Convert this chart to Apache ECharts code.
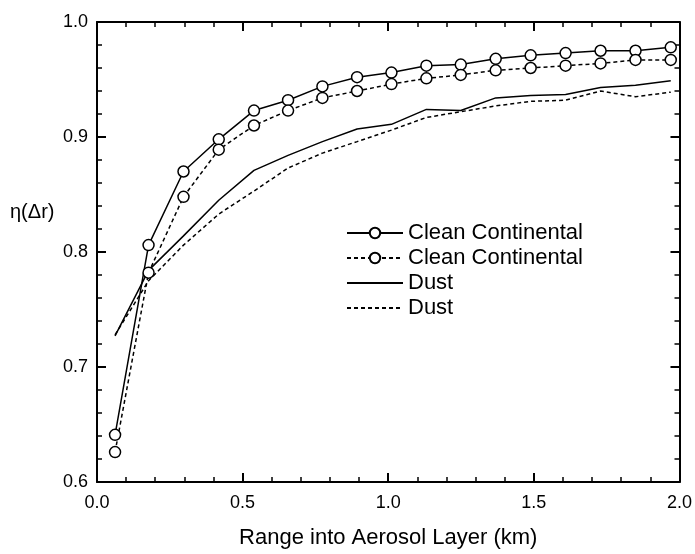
<!DOCTYPE html>
<html>
<head>
<meta charset="utf-8">
<script src="https://cdn.jsdelivr.net/npm/echarts@6/dist/echarts.min.js"></script>
<style>
html,body{margin:0;padding:0;background:#fff;}
#chart{width:695px;height:554px;}
</style>
</head>
<body>
<div id="chart"></div>
<script>
// Range into aerosol layer (km)
const rangeKm = [0.062,0.177,0.297,0.418,0.539,0.656,0.774,0.893,1.011,1.131,1.249,1.369,1.489,1.609,1.729,1.849,1.970];
// eta(Δr) values
const cleanContSolid = [0.641,0.806,0.870,0.898,0.923,0.932,0.944,0.952,0.956,0.962,0.963,0.968,0.971,0.973,0.975,0.975,0.978];
const cleanContDashed = [0.626,0.782,0.848,0.889,0.910,0.923,0.934,0.940,0.946,0.951,0.954,0.958,0.960,0.962,0.964,0.967,0.967];
const dustSolid = [0.727,0.784,0.814,0.845,0.871,0.884,0.896,0.907,0.911,0.924,0.923,0.934,0.936,0.937,0.943,0.945,0.949];
const dustDashed = [0.728,0.775,0.806,0.833,0.853,0.873,0.886,0.896,0.906,0.917,0.922,0.927,0.931,0.932,0.940,0.935,0.939];
const seriesLabels = {cc1:'Clean Continental', cc2:'Clean Continental', d1:'Dust', d2:'Dust'};
const xTitle = 'Range into Aerosol Layer (km)';
const yTitle = 'η(Δr)';

const pair = ys => rangeKm.map((x,i)=>[x, ys[i]]);
const FONT = '"Liberation Sans", Arial, Helvetica, sans-serif';

const chart = echarts.init(document.getElementById('chart'), null, {renderer:'canvas'});

const axisCommon = {
  axisLine:{show:true, onZero:false, lineStyle:{color:'#000', width:2}},
  axisTick:{show:true, inside:true, length:9, lineStyle:{color:'#000', width:2}},
  minorTick:{show:true, splitNumber:5, length:5, lineStyle:{color:'#000', width:1.5}},
  splitLine:{show:false},
  minorSplitLine:{show:false}
};

const option = {
  backgroundColor:'#fff',
  animation:false,
  grid:{left:97, right:13, top:22, bottom:65, containLabel:false},
  xAxis:[
    Object.assign({}, axisCommon, {
      type:'value', min:0, max:2, interval:0.5, position:'bottom',
      name:xTitle, nameLocation:'middle', nameGap:45,
      nameTextStyle:{fontFamily:FONT, fontSize:22, color:'#000'},
      axisLabel:{show:true, margin:12, fontFamily:FONT, fontSize:18, color:'#000', formatter:v=>v.toFixed(1)}
    }),
    Object.assign({}, axisCommon, {
      type:'value', min:0, max:2, interval:0.5, position:'top',
      axisLabel:{show:false}
    })
  ],
  yAxis:[
    Object.assign({}, axisCommon, {
      type:'value', min:0.6, max:1.0, interval:0.1, position:'left',
      axisLabel:{show:true, margin:9, fontFamily:FONT, fontSize:18, color:'#000', formatter:v=>v.toFixed(1)}
    }),
    Object.assign({}, axisCommon, {
      type:'value', min:0.6, max:1.0, interval:0.1, position:'right',
      axisLabel:{show:false}
    })
  ],
  legend:{
    orient:'vertical', left:346, top:222, itemWidth:56, itemHeight:13, itemGap:3, padding:0,
    textStyle:{fontFamily:FONT, fontSize:22, color:'#000'},
    data:[
      {name:'cc1'},
      {name:'cc2'},
      {name:'d1', itemStyle:{opacity:0}},
      {name:'d2', itemStyle:{opacity:0}}
    ],
    formatter:n=>seriesLabels[n]
  },
  graphic:[{
    type:'text', left:10, top:202,
    style:{text:yTitle, font:'20px '+FONT, fill:'#000'}
  }],
  series:[
    {name:'d1', type:'line', data:pair(dustSolid), symbol:'none', z:2,
     lineStyle:{color:'#000', width:1.5, type:'solid'}, itemStyle:{color:'#000'}},
    {name:'d2', type:'line', data:pair(dustDashed), symbol:'none', z:2,
     lineStyle:{color:'#000', width:1.5, type:[4,3]}, itemStyle:{color:'#000'}},
    {name:'cc1', type:'line', data:pair(cleanContSolid), symbol:'circle', symbolSize:11, z:3,
     lineStyle:{color:'#000', width:1.5, type:'solid'},
     itemStyle:{color:'#fff', borderColor:'#000', borderWidth:1.5}},
    {name:'cc2', type:'line', data:pair(cleanContDashed), symbol:'circle', symbolSize:11, z:3,
     lineStyle:{color:'#000', width:1.5, type:[4,3]},
     itemStyle:{color:'#fff', borderColor:'#000', borderWidth:1.5}}
  ]
};
chart.setOption(option);
</script>
</body>
</html>
